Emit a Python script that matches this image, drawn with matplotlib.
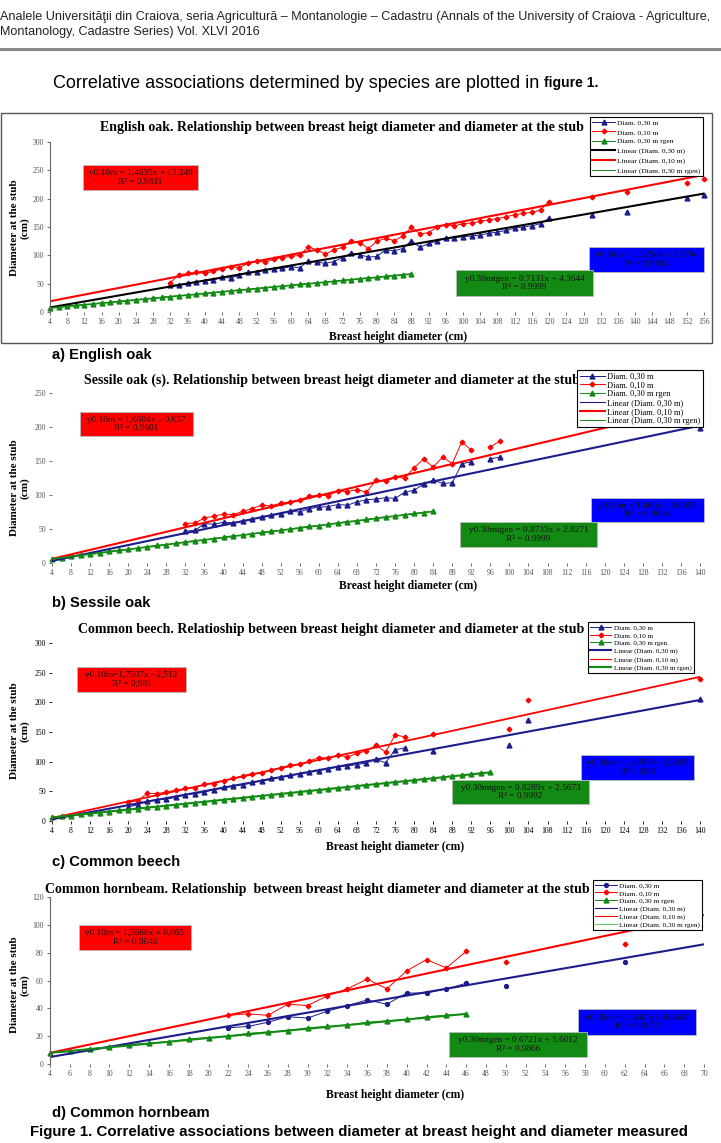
import matplotlib
matplotlib.use('Agg')
import matplotlib.pyplot as plt
from matplotlib.patches import Rectangle
from matplotlib.lines import Line2D
from matplotlib import font_manager

W, H = 721, 1143
SERIF = 'Liberation Serif'
_names = {f.name for f in font_manager.fontManager.ttflist}
NARROW = 'Liberation Sans Narrow' if 'Liberation Sans Narrow' in _names else 'Liberation Sans'

NAVY = '#1c1c8c'
RED = '#ff0000'
GREEN = '#138a13'

# ---------------- a) English oak ----------------
oak_x = list(range(32, 122, 2))
oak_d30 = [47, 48, 51, 53, 55, 57, 61, 60, 65, 70, 71, 75, 76, 77, 80, 78, 90, 88, 86, 89,
           96, 104, 101, 97, 98, 110, 108, 112, 126, 114, 121, 125, 131, 131, 133, 134, 136,
           139, 141, 144, 148, 150, 152, 156, 166]
oak_d10 = [52, 66, 68, 70, 68, 72, 76, 80, 78, 86, 90, 88, 93, 96, 98, 100, 115, 110, 102, 110,
           114, 126, 122, 112, 125, 130, 126, 134, 150, 138, 140, 150, 154, 152, 156, 157, 160,
           163, 165, 168, 172, 174, 176, 180, 195]
oak_sx = [130, 138, 152, 156]
oak_s30 = [171, 176, 201, 206]
oak_s10 = [203, 212, 228, 235]
oak_gx = list(range(4, 90, 2))
oak_gen = [7, 9, 10, 12, 13, 14, 16, 17, 19, 20, 22, 23, 24, 26, 27, 29, 30, 31, 33, 34, 36, 37,
           39, 40, 41, 43, 44, 46, 47, 49, 50, 51, 53, 54, 56, 57, 59, 60, 61, 63, 64, 66, 67]
oak_tx = [4, 156]
oak_t30 = [8, 209]
oak_t10 = [19, 242]
oak_tgx = [4, 88]
oak_tgen = [7, 67]

# ---------------- b) Sessile oak ----------------
ses_x = list(range(32, 94, 2))
ses_d30 = [47, 48, 58, 57, 60, 59, 62, 64, 68, 70, 72, 76, 75, 80, 82, 83, 86, 85, 90, 93,
           94, 96, 95, 104, 107, 116, 122, 117, 118, 146, 149]
ses_d10 = [58, 59, 66, 69, 72, 71, 76, 80, 85, 84, 88, 90, 93, 98, 100, 99, 106, 105, 108, 104,
           122, 120, 126, 125, 140, 153, 141, 156, 146, 178, 166]
ses_tx = [96, 98]
ses_t30 = [153, 156]
ses_t10 = [171, 179]
ses_ex = [140]
ses_e30 = [199]
ses_gx = list(range(4, 86, 2))
ses_gen = [6, 8, 10, 12, 13, 15, 17, 19, 20, 22, 24, 26, 27, 29, 31, 33, 34, 36, 38, 40, 41,
           43, 45, 47, 48, 50, 52, 54, 55, 57, 59, 61, 62, 64, 66, 68, 69, 71, 73, 74, 76]
ses_trx = [4, 140]
ses_tr30 = [3, 202]
ses_tr10 = [6, 232]
ses_trgx = [4, 84]
ses_trgen = [6, 76]

# ---------------- c) Common beech ----------------
bee_x = list(range(20, 80, 2))
bee_d30 = [24, 27, 34, 36, 37, 40, 44, 46, 49, 53, 57, 59, 61, 65, 68, 72, 74, 77, 80, 82,
           85, 88, 91, 93, 95, 98, 104, 98, 120, 123]
bee_d10 = [32, 34, 47, 46, 49, 52, 55, 56, 62, 63, 68, 72, 76, 80, 81, 86, 90, 94, 96, 101,
           107, 106, 111, 108, 114, 118, 128, 116, 145, 142]
bee_sx = [84, 100, 104, 140]
bee_s30 = [118, 128, 170, 205]
bee_s10 = [147, 155, 204, 240]
bee_gx = list(range(4, 98, 2))
bee_gen = [6, 8, 9, 11, 13, 14, 16, 18, 19, 21, 23, 24, 26, 27, 29, 31, 32, 34, 36, 37, 39, 41,
           42, 44, 46, 47, 49, 51, 52, 54, 56, 57, 59, 61, 62, 64, 66, 67, 69, 71, 72, 74, 76,
           77, 79, 81, 82]
bee_tx = [4, 140]
bee_t30 = [3, 204]
bee_t10 = [5, 243]
bee_tgx = [4, 96]
bee_tgen = [6, 82]

# ---------------- d) Common hornbeam ----------------
hor_x = list(range(22, 48, 2))
hor_d30 = [26, 27, 30, 34, 33, 38, 42, 46, 43, 51, 51, 54, 58]
hor_d10 = [35, 36, 35, 43, 42, 49, 54, 61, 54, 67, 75, 69, 81]
hor_sx = [50, 62]
hor_s30 = [56, 73]
hor_s10 = [73, 86]
hor_gx = list(range(4, 48, 2))
hor_gen = [8, 9, 11, 12, 14, 15, 16, 18, 19, 20, 22, 23, 24, 26, 27, 28, 30, 31, 32, 34, 35, 36]
hor_tx = [4, 70]
hor_t30 = [5, 86]
hor_t10 = [8, 107]
hor_tgx = [4, 46]
hor_tgen = [8, 36]

legend_labels = ['Diam. 0,30 m', 'Diam. 0,10 m', 'Diam. 0,30 m rgen',
                 'Linear (Diam. 0,30 m)', 'Linear (Diam. 0,10 m)', 'Linear (Diam. 0,30 m rgen)']
legend_labels_c = ['Diam. 0,30 m', 'Diam. 0,10 m', 'Diam. 0,30 m rgen.',
                   'Linear (Diam. 0,30 m)', 'Linear (Diam. 0,10 m)', 'Linear (Diam. 0,30 m rgen)']

fig = plt.figure(figsize=(W / 100, H / 100), dpi=100)
fig.patch.set_facecolor('white')


def fx(px):
    return px / W


def fy(py):
    return 1 - py / H


def make_axes(x0, x1, yzero, ytop, xlim, ymax, xticks, yticks, tcol, yline):
    ax = fig.add_axes([fx(x0), fy(yzero), (x1 - x0) / W, (yzero - ytop) / H])
    ax.set_xlim(*xlim)
    ax.set_ylim(0, ymax)
    for s in ['top', 'right', 'bottom']:
        ax.spines[s].set_visible(False)
    ax.spines['left'].set_visible(yline)
    ax.spines['left'].set_color('#666666')
    ax.spines['left'].set_linewidth(0.8)
    ax.set_xticks(xticks)
    ax.set_yticks(yticks)
    ax.tick_params(axis='both', labelsize=5.6, colors=tcol, length=2.5, width=0.6, pad=2)
    for lab in ax.get_xticklabels() + ax.get_yticklabels():
        lab.set_fontfamily(SERIF)
    ax.patch.set_alpha(0)
    return ax


def eqbox(x0, y0, x1, y1, color, lines):
    fig.add_artist(Rectangle((fx(x0), fy(y1)), (x1 - x0) / W, (y1 - y0) / H,
                             transform=fig.transFigure, facecolor=color,
                             edgecolor='#bbbbbb', lw=0.6, zorder=5))
    fig.text(fx((x0 + x1) / 2), fy((y0 + y1) / 2), '\n'.join(lines), ha='center', va='center',
             family=SERIF, fontsize=6.7, color='#111111', linespacing=1.05, zorder=6)


def titles(title, tx, ty, xl_x, xl_y, yl_y, label, lab_y):
    fig.text(fx(tx), fy(ty), title, ha='center', va='center', family=SERIF,
             fontweight='bold', fontsize=10)
    fig.text(fx(xl_x), fy(xl_y), 'Breast height diameter (cm)', ha='center', va='center',
             family=SERIF, fontweight='bold', fontsize=8.4)
    fig.text(fx(20), fy(yl_y), 'Diameter at the stub\n(cm)', ha='center', va='center',
             rotation=90, family=SERIF, fontweight='bold', fontsize=8, linespacing=1.1)
    fig.text(fx(52), fy(lab_y), label, ha='left', va='center', family=NARROW,
             fontweight='bold', fontsize=10.6)


def legend(handles, labels, x0, y0, size, spacing):
    lg = fig.legend(handles, labels, loc='upper left', bbox_to_anchor=(fx(x0), fy(y0)),
                    prop={'family': SERIF, 'size': size}, frameon=True, fancybox=False,
                    edgecolor='black', framealpha=1, handlelength=3.0, handletextpad=0.3,
                    labelspacing=spacing, borderpad=0.3, borderaxespad=0)
    lg.get_frame().set_linewidth(0.8)
    lg.set_zorder(7)


# ---------------- header ----------------
fig.text(0, fy(17), 'Analele Universităţii din Craiova, seria Agricultură – Montanologie – Cadastru '
         '(Annals of the University of Craiova - Agriculture,', ha='left', va='center',
         family=NARROW, fontsize=9.1, color='#222222')
fig.text(0, fy(32), 'Montanology, Cadastre Series) Vol. XLVI 2016', ha='left', va='center',
         family=NARROW, fontsize=9.1, color='#222222')
fig.add_artist(Line2D([0, 1], [fy(49), fy(49)], transform=fig.transFigure, color='#8a8a8a', lw=2.2))
t = fig.text(fx(53), fy(83), 'Correlative associations determined by species are plotted in ',
             ha='left', va='center', family=NARROW, fontsize=13)
fig.canvas.draw()
bb = t.get_window_extent()
fig.text(bb.x1 / W, fy(83), 'figure 1.', ha='left', va='center', family=NARROW,
         fontweight='bold', fontsize=10)

# ---------------- panel a ----------------
fig.add_artist(Rectangle((fx(1), fy(343)), 711 / W, 230 / H, transform=fig.transFigure,
                         facecolor='none', edgecolor='#555555', lw=1.0))
ax = make_axes(50, 704, 312, 142, (4, 156), 300, list(range(4, 157, 4)),
               list(range(0, 301, 50)), '#555555', True)
h1, = ax.plot(oak_x, oak_d30, color=NAVY, marker='^', ms=3.5, lw=0.7, clip_on=False)
ax.plot(oak_sx, oak_s30, color=NAVY, marker='^', ms=3.5, ls='none', clip_on=False)
h2, = ax.plot(oak_x, oak_d10, color=RED, marker='D', ms=2.4, lw=0.7, clip_on=False)
ax.plot(oak_sx, oak_s10, color=RED, marker='D', ms=2.4, ls='none', clip_on=False)
h3, = ax.plot(oak_gx, oak_gen, color=GREEN, marker='^', ms=3.5, lw=0.7, clip_on=False)
h4, = ax.plot(oak_tx, oak_t30, color='black', lw=1.5)
h5, = ax.plot(oak_tx, oak_t10, color=RED, lw=1.5)
h6, = ax.plot(oak_tgx, oak_tgen, color=GREEN, lw=1.2)
titles('English oak. Relationship between breast heigt diameter and diameter at the stub',
       342, 128, 398, 337, 228, 'a) English oak', 355)
legend([h1, h2, h3, h4, Line2D([], [], color=RED, lw=1.5), Line2D([], [], color=GREEN, lw=0.7)],
       legend_labels, 590, 117, 5.4, 0.42)
eqbox(83, 165, 198, 190, RED, ['y0,10m = 1,4635x + 13,249', 'R² = 0,9831'])
eqbox(589, 247, 704, 272, '#0000ff', ['y0.30m = 1.3256x + 2.7744', 'R² = 0.9854'])
eqbox(456, 270, 593, 296, GREEN, ['y0.30mtgen = 0.7131x + 4.3644', 'R² = 0.9999'])

# ---------------- panel b ----------------
ax = make_axes(52, 700, 563, 393, (4, 140), 250, list(range(4, 141, 4)),
               list(range(0, 251, 50)), '#555555', False)
h1, = ax.plot(ses_x, ses_d30, color=NAVY, marker='^', ms=3.5, lw=0.7, clip_on=False)
ax.plot(ses_tx, ses_t30, color=NAVY, marker='^', ms=3.5, lw=0.7, clip_on=False)
ax.plot(ses_ex, ses_e30, color=NAVY, marker='^', ms=3.5, ls='none', clip_on=False)
h2, = ax.plot(ses_x, ses_d10, color=RED, marker='D', ms=2.4, lw=0.7, clip_on=False)
ax.plot(ses_tx, ses_t10, color=RED, marker='D', ms=2.4, lw=0.7, clip_on=False)
h3, = ax.plot(ses_gx, ses_gen, color=GREEN, marker='^', ms=3.5, lw=0.7, clip_on=False)
h4, = ax.plot(ses_trx, ses_tr30, color=NAVY, lw=1.5)
h5, = ax.plot(ses_trx, ses_tr10, color=RED, lw=1.5)
h6, = ax.plot(ses_trgx, ses_trgen, color=GREEN, lw=1.2)
titles('Sessile oak (s). Relationship between breast heigt diameter and diameter at the stub',
       332, 380, 408, 586, 488, 'b) Sessile oak', 603)
legend([h1, h2, h3, Line2D([], [], color=NAVY, lw=0.8), Line2D([], [], color=RED, lw=1.5),
        Line2D([], [], color=GREEN, lw=0.7)], legend_labels, 577, 370, 6.0, 0.1)
eqbox(80, 412, 193, 436, RED, ['y0.10m = 1,6604x – 0.637', 'R² = 0.9601'])
eqbox(591, 498, 704, 522, '#0000ff', ['y0.30m = 1.468x – 3.0657', 'R² = 0.9636'])
eqbox(460, 522, 597, 547, GREEN, ['y0.30mtgen = 0.8733x + 2.8271', 'R² = 0.9999'])

# ---------------- panel c ----------------
ax = make_axes(52, 700, 821, 643, (4, 140), 300, list(range(4, 141, 4)),
               list(range(0, 301, 50)), 'black', False)
h1, = ax.plot(bee_x, bee_d30, color=NAVY, marker='^', ms=3.5, lw=0.7, clip_on=False)
ax.plot(bee_sx, bee_s30, color=NAVY, marker='^', ms=3.5, ls='none', clip_on=False)
h2, = ax.plot(bee_x, bee_d10, color=RED, marker='D', ms=2.4, lw=0.7, clip_on=False)
ax.plot(bee_sx, bee_s10, color=RED, marker='D', ms=2.4, ls='none', clip_on=False)
h3, = ax.plot(bee_gx, bee_gen, color=GREEN, marker='^', ms=3.5, lw=0.7, clip_on=False)
h4, = ax.plot(bee_tx, bee_t30, color=NAVY, lw=1.5)
h5, = ax.plot(bee_tx, bee_t10, color=RED, lw=1.3)
h6, = ax.plot(bee_tgx, bee_tgen, color=GREEN, lw=1.5)
titles('Common beech. Relatioship between breast height diameter and diameter at the stub',
       331, 629, 395, 847, 731, 'c) Common beech', 862)
legend([h1, h2, h3, h4, Line2D([], [], color=RED, lw=0.8), h6], legend_labels_c, 588, 622,
       5.1, 0.28)
eqbox(77, 667, 186, 692, RED, ['y0.10m=1,7507x - 2,512', 'R² = 0,981'])
eqbox(581, 755, 694, 780, '#0000ff', ['y0.30m = 1,4767x - 3,3429', 'R² = 0,98'])
eqbox(452, 780, 589, 804, GREEN, ['y0.30mtgen = 0.8289x + 2.5673', 'R² = 0.9992'])

# ---------------- panel d ----------------
ax = make_axes(50, 704, 1064, 897, (4, 70), 120, list(range(4, 71, 2)),
               list(range(0, 121, 20)), '#555555', True)
h1, = ax.plot(hor_x, hor_d30, color=NAVY, marker='o', ms=2.8, lw=0.7, clip_on=False)
ax.plot(hor_sx, hor_s30, color=NAVY, marker='o', ms=2.8, ls='none', clip_on=False)
h2, = ax.plot(hor_x, hor_d10, color=RED, marker='D', ms=2.4, lw=0.7, clip_on=False)
ax.plot(hor_sx, hor_s10, color=RED, marker='D', ms=2.4, ls='none', clip_on=False)
h3, = ax.plot(hor_gx, hor_gen, color=GREEN, marker='^', ms=3.5, lw=0.7, clip_on=False)
h4, = ax.plot(hor_tx, hor_t30, color=NAVY, lw=1.5)
h5, = ax.plot(hor_tx, hor_t10, color=RED, lw=1.5)
h6, = ax.plot(hor_tgx, hor_tgen, color=GREEN, lw=1.5)
titles('Common hornbeam. Relationship  between breast height diameter and diameter at the stub',
       317, 889, 395, 1095, 985, 'd) Common hornbeam', 1113)
legend([h1, h2, h3, Line2D([], [], color=NAVY, lw=0.8), Line2D([], [], color=RED, lw=0.8),
        Line2D([], [], color='#66cc66', lw=0.8)], legend_labels, 593, 880, 5.2, 0.22)
eqbox(79, 925, 191, 950, RED, ['y0.10m = 1,5668x + 6,065', 'R² = 0,8046'])
eqbox(578, 1009, 696, 1035, '#0000ff', ['y0.30m = 1.2447x + 4.4647', 'R² = 0.9173'])
eqbox(449, 1032, 587, 1057, GREEN, ['y0.30mtgen = 0.6721x + 5.6012', 'R² = 0.9866'])

fig.text(fx(30), fy(1132), 'Figure 1. Correlative associations between diameter at breast height '
         'and diameter measured', ha='left', va='center', family=NARROW, fontweight='bold',
         fontsize=10.8)

fig.savefig('out.png', dpi=100, facecolor='white')
